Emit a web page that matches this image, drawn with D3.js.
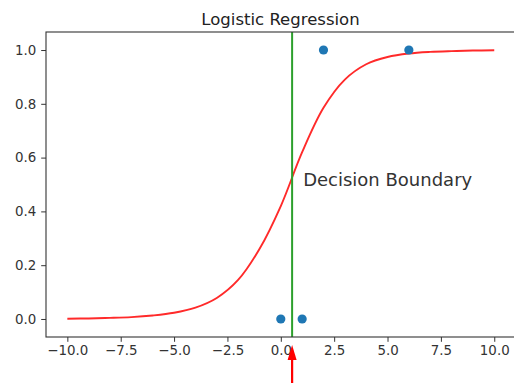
<!DOCTYPE html>
<html><head><meta charset="utf-8">
<script src="https://cdn.jsdelivr.net/npm/d3@7"></script>
<style>
html,body{margin:0;padding:0;background:#fff;overflow:hidden;}
svg{display:block;}
text{font-family:"DejaVu Sans",sans-serif;}
</style></head>
<body><svg id="c" width="514" height="383"></svg>
<script>
// data
const curveX = [-10,-9,-8,-7,-6,-5,-4,-3,-2,-1,0,1,2,3,4,5,6,7,8,9,10];
const curveY = [0.001,0.002,0.004,0.007,0.013,0.023,0.042,0.078,0.145,0.26,0.42,0.62,0.785,0.89,0.947,0.974,0.987,0.993,0.996,0.998,0.999];
const pointsX = [0,1,2,6];
const pointsY = [0,0,1,1];
const boundaryX = 0.53;
const xTicks = [-10,-7.5,-5,-2.5,0,2.5,5,7.5,10];
const yTicks = [0,0.2,0.4,0.6,0.8,1.0];
const title = "Logistic Regression";
const label = {x: 1.0, y: 0.5, text: "Decision Boundary"};

const svg = d3.select("#c");
const L = 46, R = 515.6, T = 32, B = 337;
const x = d3.scaleLinear().domain([-11, 11]).range([L, R]);
const y = d3.scaleLinear().domain([-0.067, 1.067]).range([B, T]);
const fmt = d => d.toFixed(1).replace("-", "\u2212");

// curve
const line = d3.line().x(d => x(d[0])).y(d => y(d[1])).curve(d3.curveCatmullRom.alpha(0.5));
svg.append("path").datum(curveX.map((v,i)=>[v,curveY[i]]))
  .attr("d", line).attr("fill","none").attr("stroke","#ff2a2a").attr("stroke-width",1.9);

// boundary
svg.append("line").attr("x1",x(boundaryX)).attr("x2",x(boundaryX)).attr("y1",T).attr("y2",B)
  .attr("stroke","#2ca02c").attr("stroke-width",2);

// points
svg.selectAll("circle.pt").data(pointsX.map((v,i)=>[v,pointsY[i]])).enter().append("circle")
  .attr("cx", d=>x(d[0])).attr("cy", d=>y(d[1])).attr("r",4.6).attr("fill","#1f77b4");

// axes
const xa = svg.append("g").attr("transform",`translate(0,${B})`)
  .call(d3.axisBottom(x).tickValues(xTicks).tickFormat(fmt).tickSize(4.8).tickPadding(4));
const ya = svg.append("g").attr("transform",`translate(${L},0)`)
  .call(d3.axisLeft(y).tickValues(yTicks).tickFormat(fmt).tickSize(4.8).tickPadding(5));
[xa, ya].forEach(g => {
  g.select(".domain").remove();
  g.selectAll("line").attr("stroke","#333").attr("stroke-width",1);
  g.selectAll("text").attr("fill","#333").attr("font-size","13.4px").attr("font-family","DejaVu Sans");
});
// spines
svg.append("rect").attr("x",L).attr("y",T).attr("width",R-L).attr("height",B-T)
  .attr("fill","none").attr("stroke","#333").attr("stroke-width",1.1);

// title
svg.append("text").attr("x",280.5).attr("y",25).attr("text-anchor","middle")
  .attr("font-size","16.5px").attr("fill","#222").text(title);

// annotation
svg.append("text").attr("x",x(label.x)+1).attr("y",y(label.y)+1.5)
  .attr("font-size","18px").attr("fill","#333").text(label.text);

// red arrow below axis pointing at the boundary
const ax = x(boundaryX);
svg.append("line").attr("x1",ax).attr("x2",ax).attr("y1",383).attr("y2",356)
  .attr("stroke","#ff0000").attr("stroke-width",2.2);
svg.append("path").attr("d",`M${ax},345 L${ax-4.5},360 L${ax+4.5},360 Z`).attr("fill","#ff0000");
</script></body></html>
